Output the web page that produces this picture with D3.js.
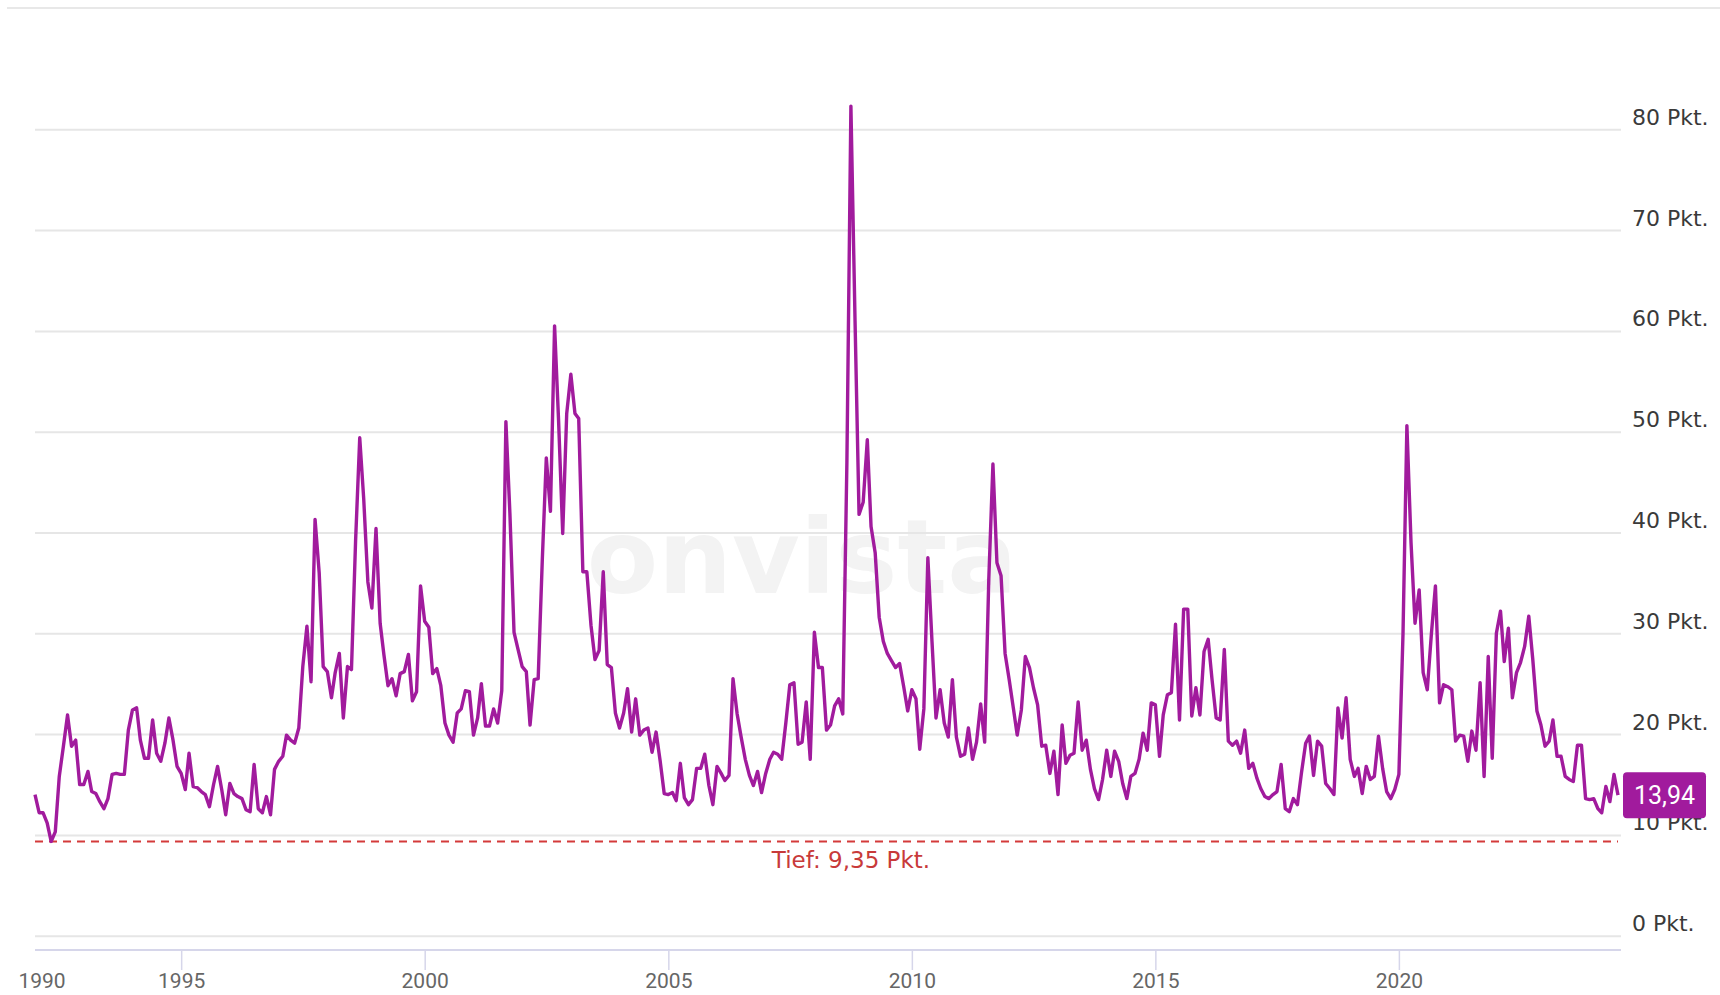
<!DOCTYPE html>
<html>
<head>
<meta charset="utf-8">
<script src="https://cdn.jsdelivr.net/npm/d3@7"></script>
<style>
  body { margin: 0; background: #fff; }
  svg { display: block; }
</style>
</head>
<body>
<div id="chart"></div>
<script>
// monthly VDAX values (Pkt.), Jan 1992 .. Jul 2024
var v1992 = [14.0, 12.2, 12.2, 11.2, 9.35, 10.3, 15.8, 18.8, 21.9, 18.8, 19.4, 15.0];
var v1993 = [15.0, 16.3, 14.3, 14.1, 13.3, 12.6, 13.6, 16.0, 16.1, 16.0, 16.0, 20.4];
var v1994 = [22.4, 22.6, 19.4, 17.6, 17.6, 21.4, 18.1, 17.3, 19.1, 21.6, 19.4, 16.8];
var v1995 = [16.1, 14.5, 18.1, 14.8, 14.7, 14.3, 14.0, 12.8, 15.0, 16.8, 14.5, 12.0];
var v1996 = [15.1, 14.1, 13.8, 13.6, 12.5, 12.3, 17.0, 12.6, 12.2, 13.8, 12.0, 16.5];
var v1997 = [17.3, 17.8, 19.9, 19.4, 19.1, 20.6, 26.7, 30.7, 25.2, 41.3, 36.0, 26.7];
var v1998 = [26.2, 23.6, 26.1, 28.0, 21.6, 26.7, 26.4, 39.2, 49.4, 43.3, 35.1, 32.5];
var v1999 = [40.4, 31.0, 27.9, 24.8, 25.5, 23.8, 26.0, 26.2, 27.9, 23.3, 24.2, 34.7];
var v2000 = [31.2, 30.6, 26.0, 26.5, 24.8, 21.1, 19.9, 19.2, 22.1, 22.5, 24.3, 24.2];
var v2001 = [19.9, 21.6, 25.0, 20.8, 20.8, 22.5, 21.1, 24.3, 51.0, 41.9, 30.1, 28.4];
var v2002 = [26.7, 26.2, 20.9, 25.4, 25.5, 37.3, 47.4, 42.1, 60.5, 51.1, 39.9, 51.8];
var v2003 = [55.7, 51.8, 51.3, 36.1, 36.1, 30.8, 27.4, 28.3, 36.1, 26.9, 26.6, 22.1];
var v2004 = [20.6, 22.1, 24.5, 20.2, 23.5, 19.9, 20.4, 20.6, 18.2, 20.2, 17.3, 14.1];
var v2005 = [14.0, 14.2, 13.4, 17.1, 13.7, 13.0, 13.5, 16.6, 16.6, 18.0, 14.9, 13.0];
var v2006 = [16.8, 16.1, 15.4, 15.9, 25.5, 22.0, 19.7, 17.5, 15.9, 14.9, 16.3, 14.2];
var v2007 = [16.1, 17.5, 18.2, 18.0, 17.5, 21.1, 24.9, 25.1, 19.0, 19.2, 23.2, 17.5];
var v2008 = [30.1, 26.6, 26.6, 20.4, 20.9, 22.8, 23.5, 22.0, 47.0, 82.3, 61.0, 41.8];
var v2009 = [43.0, 49.2, 40.6, 38.0, 31.6, 29.2, 28.0, 27.3, 26.6, 27.0, 24.7, 22.3];
var v2010 = [24.4, 23.5, 18.5, 22.5, 37.5, 29.2, 21.6, 24.4, 21.1, 19.7, 25.4, 19.7];
var v2011 = [17.8, 18.0, 20.6, 17.5, 19.2, 23.0, 19.2, 35.4, 46.8, 37.0, 35.7, 28.0];
var v2012 = [25.4, 22.6, 19.9, 22.4, 27.7, 26.6, 24.6, 22.9, 18.8, 18.9, 16.1, 18.3];
var v2013 = [14.0, 20.9, 17.1, 17.9, 18.1, 23.2, 18.4, 19.4, 16.5, 14.6, 13.5, 15.5];
var v2014 = [18.4, 15.8, 18.3, 17.3, 15.1, 13.6, 15.8, 16.1, 17.5, 20.1, 18.4, 23.1];
var v2015 = [22.9, 17.8, 21.9, 23.9, 24.1, 30.9, 21.4, 32.4, 32.4, 21.8, 24.6, 21.9];
var v2016 = [28.2, 29.4, 25.4, 21.6, 21.4, 28.4, 19.3, 18.9, 19.3, 18.1, 20.4, 16.6];
var v2017 = [17.1, 15.6, 14.6, 13.8, 13.6, 14.0, 14.3, 17.0, 12.6, 12.3, 13.6, 13.0];
var v2018 = [16.2, 19.1, 19.8, 15.9, 19.3, 18.8, 15.1, 14.6, 14.0, 22.6, 19.6, 23.6];
var v2019 = [17.5, 15.8, 16.6, 14.1, 16.8, 15.5, 15.8, 19.8, 16.6, 14.3, 13.6, 14.5];
var v2020 = [16.0, 30.0, 50.6, 39.0, 31.0, 34.3, 26.1, 24.4, 30.0, 34.7, 23.1, 24.9];
var v2021 = [24.7, 24.4, 19.3, 19.9, 19.8, 17.3, 20.3, 18.4, 25.1, 15.8, 27.7, 17.6];
var v2022 = [30.0, 32.2, 27.2, 30.5, 23.6, 26.1, 27.1, 28.7, 31.7, 27.4, 22.3, 20.9];
var v2023 = [18.8, 19.3, 21.4, 17.8, 17.8, 15.8, 15.5, 15.3, 18.9, 18.9, 13.6, 13.5];
var v2024 = [13.6, 12.6, 12.2, 14.8, 13.3, 16.0, 13.94];

var yearlyValues = [v1992, v1993, v1994, v1995, v1996, v1997, v1998, v1999, v2000,
  v2001, v2002, v2003, v2004, v2005, v2006, v2007, v2008, v2009, v2010, v2011,
  v2012, v2013, v2014, v2015, v2016, v2017, v2018, v2019, v2020, v2021, v2022,
  v2023, v2024];
var firstYear = 1992;

var yearTicks = [1995, 2000, 2005, 2010, 2015, 2020];
var firstYearLabel = "1990";
var yTicks = [0, 10, 20, 30, 40, 50, 60, 70, 80];
var tiefValue = 9.35;
var tiefLabel = "Tief: 9,35 Pkt.";
var lastLabel = "13,94";

var data = [];
yearlyValues.forEach(function (arr, i) {
  arr.forEach(function (v, m) {
    data.push({ date: new Date(firstYear + i, m, 1), value: v });
  });
});

var W = 1720, H = 995;
var left = 35, right = 1621;

var svg = d3.select("#chart")
  .append("svg")
  .attr("width", W)
  .attr("height", H);

var x = d3.scaleTime()
  .domain([new Date(1992, 0, 1), new Date(2024, 6, 1)])
  .range([left, 1618]);

var y = d3.scaleLinear()
  .domain([0, 80])
  .range([935.7, 129.3]);

// top border
svg.append("line")
  .attr("x1", 7).attr("x2", W)
  .attr("y1", 8).attr("y2", 8)
  .attr("stroke", "#e8e8e8")
  .attr("stroke-width", 2);

// watermark
svg.append("text")
  .attr("x", 802).attr("y", 593)
  .attr("text-anchor", "middle")
  .style("font-family", "DejaVu Sans")
  .style("font-weight", "bold")
  .style("font-size", "104px")
  .attr("fill", "#f3f3f3")
  .text("onvista");

// grid + right labels
var yAxis = svg.append("g")
  .attr("transform", "translate(" + right + ",0)")
  .call(d3.axisRight(y)
    .tickValues(yTicks)
    .tickSize(-(right - left))
    .tickFormat(function (d) { return d + " Pkt."; }));
yAxis.select(".domain").remove();
yAxis.selectAll(".tick line")
  .attr("stroke", "#e6e6e6")
  .attr("stroke-width", 2);
yAxis.selectAll(".tick text")
  .attr("x", 11)
  .attr("dy", "-5")
  .attr("fill", "#3a3a3a")
  .style("font-family", "DejaVu Sans")
  .style("font-size", "22px");

// bottom axis
svg.append("line")
  .attr("x1", left).attr("x2", right)
  .attr("y1", 950).attr("y2", 950)
  .attr("stroke", "#d6d6ea")
  .attr("stroke-width", 2);

var xAxis = svg.append("g")
  .attr("transform", "translate(0,950)")
  .call(d3.axisBottom(x)
    .tickValues(yearTicks.map(function (yr) { return new Date(yr, 0, 1); }))
    .tickSize(20)
    .tickFormat(d3.timeFormat("%Y")));
xAxis.select(".domain").remove();
xAxis.selectAll(".tick line")
  .attr("stroke", "#d6d6ea")
  .attr("stroke-width", 1.5);
xAxis.selectAll(".tick text")
  .attr("y", 38)
  .attr("dy", null)
  .attr("fill", "#666")
  .style("font-family", "Roboto")
  .style("font-size", "21px");

svg.append("text")
  .attr("x", 42)
  .attr("y", 988)
  .attr("text-anchor", "middle")
  .attr("fill", "#666")
  .style("font-family", "Roboto")
  .style("font-size", "21px")
  .text(firstYearLabel);

// low line
svg.append("line")
  .attr("x1", left).attr("x2", 1618)
  .attr("y1", y(tiefValue)).attr("y2", y(tiefValue))
  .attr("stroke", "#d43a3a")
  .attr("stroke-width", 2)
  .attr("stroke-dasharray", "8,6");

svg.append("text")
  .attr("x", 851)
  .attr("y", y(tiefValue) + 27)
  .attr("text-anchor", "middle")
  .attr("fill", "#c83a3a")
  .style("font-family", "DejaVu Sans")
  .style("font-size", "23px")
  .text(tiefLabel);

// the line
svg.append("path")
  .datum(data)
  .attr("fill", "none")
  .attr("stroke", "#a11b9d")
  .attr("stroke-width", 3.4)
  .attr("stroke-linejoin", "round")
  .attr("d", d3.line()
    .x(function (d) { return x(d.date); })
    .y(function (d) { return y(d.value); }));

// last value badge
var last = data[data.length - 1];
svg.append("rect")
  .attr("x", x(last.date) + 5)
  .attr("y", y(last.value) - 23)
  .attr("width", 83)
  .attr("height", 46)
  .attr("rx", 4)
  .attr("fill", "#a11b9d");
svg.append("text")
  .attr("x", x(last.date) + 46.5)
  .attr("y", y(last.value) + 9)
  .attr("text-anchor", "middle")
  .attr("fill", "#fff")
  .style("font-family", "Roboto")
  .style("font-size", "25px")
  .text(lastLabel);
</script>
</body>
</html>
